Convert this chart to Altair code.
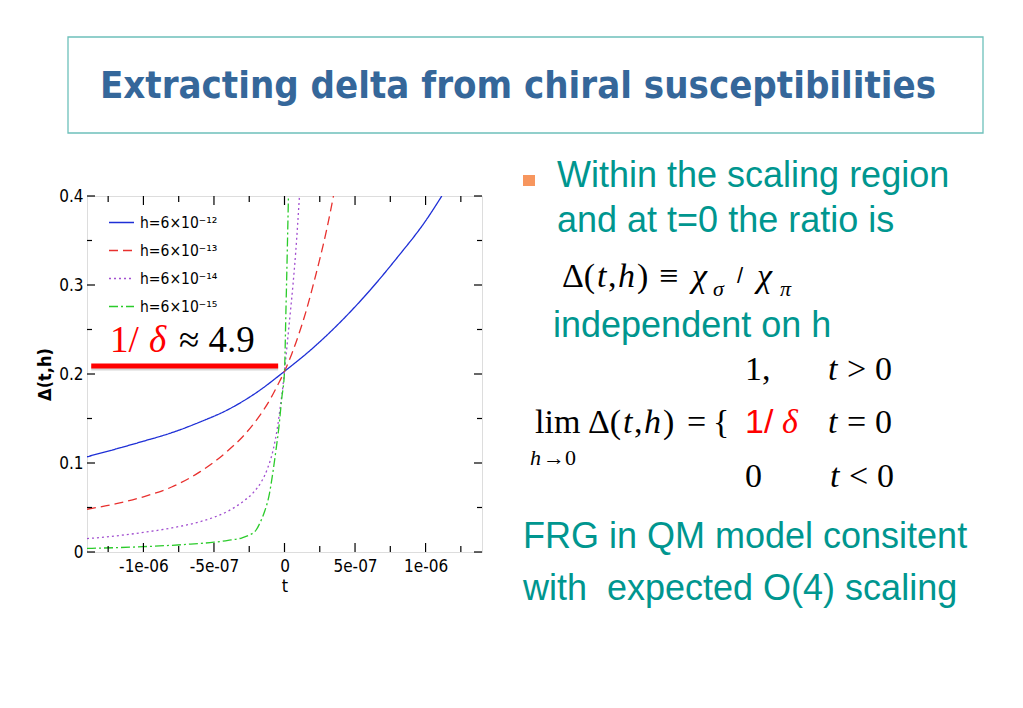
import altair as alt
import pandas as pd

# ---------------- data ----------------
series_labels = ["h=6×10⁻¹²", "h=6×10⁻¹³", "h=6×10⁻¹⁴", "h=6×10⁻¹⁵"]
series_colors = ["#1E2FD6", "#E8302E", "#A24FD0", "#2BCB2B"]
series_dashes = [[1, 0], [9, 5], [2, 3], [9, 3, 2, 3]]

t_blue = [-1.4, -1.2, -1.0, -0.8, -0.6, -0.4, -0.2, 0.0, 0.2, 0.4, 0.6, 0.8, 1.0, 1.115]
v_blue = [0.107, 0.1155, 0.1245, 0.134, 0.146, 0.160, 0.179, 0.203, 0.229, 0.259, 0.293, 0.331, 0.372, 0.400]

t_red = [-1.4, -1.2, -1.0, -0.8, -0.6, -0.5, -0.4, -0.3, -0.2, -0.1, -0.05, 0.0, 0.05, 0.1, 0.15, 0.2, 0.25, 0.3, 0.347]
v_red = [0.048, 0.054, 0.062, 0.073, 0.090, 0.101, 0.114, 0.129, 0.148, 0.172, 0.187, 0.203, 0.222, 0.244, 0.269, 0.298, 0.329, 0.363, 0.400]

t_purple = [-1.4, -1.2, -1.0, -0.8, -0.6, -0.5, -0.4, -0.3, -0.22, -0.16, -0.12, -0.08, -0.05, -0.03, -0.01, 0.0, 0.02, 0.04, 0.06, 0.08, 0.106]
v_purple = [0.015, 0.018, 0.022, 0.027, 0.034, 0.039, 0.046, 0.056, 0.067, 0.080, 0.094, 0.115, 0.140, 0.163, 0.188, 0.203, 0.235, 0.267, 0.300, 0.338, 0.400]

t_green = [-1.4, -1.0, -0.7, -0.5, -0.4, -0.3, -0.25, -0.2, -0.17, -0.14, -0.11, -0.08, -0.06, -0.04, -0.02, 0.0, 0.01, 0.02, 0.028]
v_green = [0.004, 0.006, 0.0085, 0.011, 0.013, 0.016, 0.019, 0.025, 0.034, 0.046, 0.063, 0.092, 0.115, 0.140, 0.172, 0.203, 0.270, 0.340, 0.400]

t_unit = 1e-6

x_major_ticks = [-1e-6, -5e-7, 0.0, 5e-7, 1e-6]
x_tick_labels = ["-1e-06", "-5e-07", "0", "5e-07", "1e-06"]
x_minor_ticks = [-1.25e-6, -7.5e-7, -2.5e-7, 2.5e-7, 7.5e-7, 1.25e-6]
y_major_ticks = [0.0, 0.1, 0.2, 0.3, 0.4]
y_tick_labels = ["0", "0.1", "0.2", "0.3", "0.4"]
y_minor_ticks = [0.05, 0.15, 0.25, 0.35]

# annotation: 1/delta level
annot_y = [0.209]
annot_t_start = [-1.37e-6]
annot_t_end = [-0.045e-6]

slide_title = "Extracting delta from chiral susceptibilities"
teal_lines = ["Within the scaling region", "and at t=0 the ratio is", "independent on h",
              "FRG in QM model consitent", "with", "expected O(4) scaling"]

# ---------------- layout constants ----------------
W, H = 395, 356
OX, OY = 87, 196          # page position of plot origin
SANS = "Liberation Sans, Arial, sans-serif"
NARROW = "DejaVu Sans Condensed, Liberation Sans Narrow, sans-serif"
SERIF = "Liberation Serif, Times New Roman, serif"
TEAL = "#00968F"

rows = []
for lab, ts, vs in zip(series_labels, [t_blue, t_red, t_purple, t_green],
                       [v_blue, v_red, v_purple, v_green]):
    for t, v in zip(ts, vs):
        rows.append({"series": lab, "t": t * t_unit, "value": v})
curves = pd.DataFrame(rows)


def label_expr(vals, labels, tol):
    parts = [f"abs(datum.value - ({v})) < {tol} ? '{l}'" for v, l in zip(vals, labels)]
    return " : ".join(parts) + " : ''"


xscale = alt.Scale(domain=[-1.4e-6, 1.4e-6], nice=False, zero=False)
yscale = alt.Scale(domain=[0, 0.4], nice=False, zero=False)
xaxis = alt.Axis(values=x_major_ticks, labelExpr=label_expr(x_major_ticks, x_tick_labels, 1e-9),
                 ticks=False, domain=False, grid=False, labelPadding=6, labelFont=NARROW,
                 labelFontSize=17, labelColor="black", title="t", titleFont=NARROW,
                 titleFontSize=18, titleFontWeight="normal", titleColor="black", titlePadding=3,
                 labelFlush=False)
yaxis = alt.Axis(values=y_major_ticks, labelExpr=label_expr(y_major_ticks, y_tick_labels, 1e-6),
                 ticks=False, domain=False, grid=False, labelPadding=4, labelFont=NARROW,
                 labelFontSize=17, labelColor="black", title="Δ(t,h)", titleFont=NARROW,
                 titleFontSize=18, titleFontWeight="bold", titleColor="black", titlePadding=4,
                 labelFlush=False)


def X(field="t"):
    return alt.X(f"{field}:Q", scale=xscale, axis=xaxis)


def Y(field="value"):
    return alt.Y(f"{field}:Q", scale=yscale, axis=yaxis)


legend = alt.Legend(title=None, orient="none", legendX=21, legendY=13, symbolType="stroke",
                    symbolSize=625, symbolStrokeWidth=1.3, labelFont=NARROW, labelFontSize=15.5,
                    labelColor="black", labelOffset=5, rowPadding=6, padding=0)

lines = alt.Chart(curves).mark_line(clip=True, strokeWidth=1.3, interpolate="monotone").encode(
    x=X(), y=Y(),
    color=alt.Color("series:N", scale=alt.Scale(domain=series_labels, range=series_colors), legend=legend),
    strokeDash=alt.StrokeDash("series:N", scale=alt.Scale(domain=series_labels, range=series_dashes), legend=legend),
    order=alt.Order("t:Q"),
)

layers = [lines]

# inward ticks on all four sides
def xticks(vals, length):
    df = pd.DataFrame({"t": vals})
    bot = alt.Chart(df).mark_rule(color="black", strokeWidth=1.2).encode(
        x=X(), y=alt.value(H), y2=alt.value(H - length))
    top = alt.Chart(df).mark_rule(color="black", strokeWidth=1.2).encode(
        x=X(), y=alt.value(0), y2=alt.value(length))
    return [bot, top]


def yticks(vals, length):
    df = pd.DataFrame({"value": vals})
    left = alt.Chart(df).mark_rule(color="black", strokeWidth=1.2).encode(
        y=Y(), x=alt.value(0), x2=alt.value(length))
    right = alt.Chart(df).mark_rule(color="black", strokeWidth=1.2).encode(
        y=Y(), x=alt.value(W), x2=alt.value(W - length))
    return [left, right]


layers += xticks(x_major_ticks, 9) + xticks(x_minor_ticks, 6)
layers += yticks(y_major_ticks, 8) + yticks(y_minor_ticks, 5)

# red annotation bar (with faint shadow)
annot = pd.DataFrame({"t": annot_t_start, "t2": annot_t_end, "value": annot_y})
layers.append(alt.Chart(annot).mark_rule(color="#bbbbbb", strokeWidth=5, opacity=0.6, yOffset=2).encode(
    x=X(), x2="t2:Q", y=Y()))
layers.append(alt.Chart(annot).mark_rule(color="#FF0000", strokeWidth=5).encode(
    x=X(), x2="t2:Q", y=Y()))


def txt(s, x, y, size, color="black", font=SANS, align="left", style="normal", weight="normal",
        baseline="alphabetic"):
    df = pd.DataFrame({"s": [s]})
    return alt.Chart(df).mark_text(align=align, baseline=baseline, fontSize=size, font=font,
                                   color=color, fontStyle=style, fontWeight=weight).encode(
        x=alt.value(x - OX), y=alt.value(y - OY), text="s:N")


def box(x1, y1, x2, y2, **kw):
    df = pd.DataFrame({"k": [0]})
    return alt.Chart(df).mark_rect(**kw).encode(
        x=alt.value(x1 - OX), x2=alt.value(x2 - OX), y=alt.value(y1 - OY), y2=alt.value(y2 - OY))


# annotation text inside plot
layers.append(txt("1/", 110, 352, 37, "#FF0000", SERIF))
layers.append(txt("δ", 149, 352, 37, "#FF0000", SERIF, style="italic"))
layers.append(txt("≈ 4.9", 179, 352, 37, "black", SERIF))

# slide title box
layers.append(box(68, 37, 983, 133, fill="white", fillOpacity=0, stroke="#6DC0BA", strokeWidth=1.3))
layers.append(txt(slide_title, 518, 98, 38, "#35679A", NARROW, align="center", weight="bold"))

# bullet
layers.append(box(523, 175, 535, 186, fill="#F7965E"))

# teal text
layers.append(txt(teal_lines[0], 557, 187, 36, TEAL))
layers.append(txt(teal_lines[1], 557, 232, 36, TEAL))
layers.append(txt(teal_lines[2], 553, 337, 36, TEAL))
layers.append(txt(teal_lines[3], 523, 548, 36, TEAL))
layers.append(txt(teal_lines[4], 523, 600, 36, TEAL))
layers.append(txt(teal_lines[5], 607, 600, 36, TEAL))

# formula: Delta(t,h) = chi_sigma / chi_pi
F = 34
def delta_th(x0, y):
    return [txt("Δ(", x0, y, F, font=SERIF),
            txt("t", x0 + 35, y, F, font=SERIF, style="italic"),
            txt(",", x0 + 46, y, F, font=SERIF),
            txt("h", x0 + 56, y, F, font=SERIF, style="italic"),
            txt(")", x0 + 75, y, F, font=SERIF)]

layers += delta_th(562, 287)
layers.append(txt("≡", 659, 287, F, font=SERIF))
layers.append(txt("χ", 692, 287, F, font=SERIF, style="italic"))
layers.append(txt("σ", 713, 296, 22, font=SERIF, style="italic"))
layers.append(txt("/", 737, 283, 22, font=SANS))
layers.append(txt("χ", 757, 287, F, font=SERIF, style="italic"))
layers.append(txt("π", 780, 296, 22, font=SERIF, style="italic"))

# piecewise limit
layers.append(txt("1,", 745, 380, F, font=SERIF))
layers.append(txt("t", 828, 380, F, font=SERIF, style="italic"))
layers.append(txt(">", 847, 380, F, font=SERIF))
layers.append(txt("0", 875, 380, F, font=SERIF))

layers.append(txt("lim", 535, 433, F, font=SERIF))
layers += delta_th(588, 433)
layers.append(txt("=", 687, 433, F, font=SERIF))
layers.append(txt("{", 713, 433, F, font=SERIF))
layers.append(txt("1/", 745, 433, F, "#FF0000", SANS))
layers.append(txt("δ", 782, 433, F, "#FF0000", SERIF, style="italic"))
layers.append(txt("t", 828, 433, F, font=SERIF, style="italic"))
layers.append(txt("=", 847, 433, F, font=SERIF))
layers.append(txt("0", 875, 433, F, font=SERIF))
layers.append(txt("h", 530, 465, 22, font=SERIF, style="italic"))
layers.append(txt("→0", 543, 465, 22, font=SERIF))

layers.append(txt("0", 745, 487, F, font=SERIF))
layers.append(txt("t", 830, 487, F, font=SERIF, style="italic"))
layers.append(txt("<", 849, 487, F, font=SERIF))
layers.append(txt("0", 877, 487, F, font=SERIF))

chart = alt.layer(*layers).properties(
    width=W, height=H,
    padding={"left": OX - 8, "top": OY - 8, "right": 1007 - (OX - 8) - W, "bottom": 692 - (OY - 8) - H},
    autosize=alt.AutoSizeParams(type="none"),
).configure_view(stroke="black", strokeWidth=1.3).configure(background="white")

chart.save("out.html", embed_options={"renderer": "svg", "actions": False})
